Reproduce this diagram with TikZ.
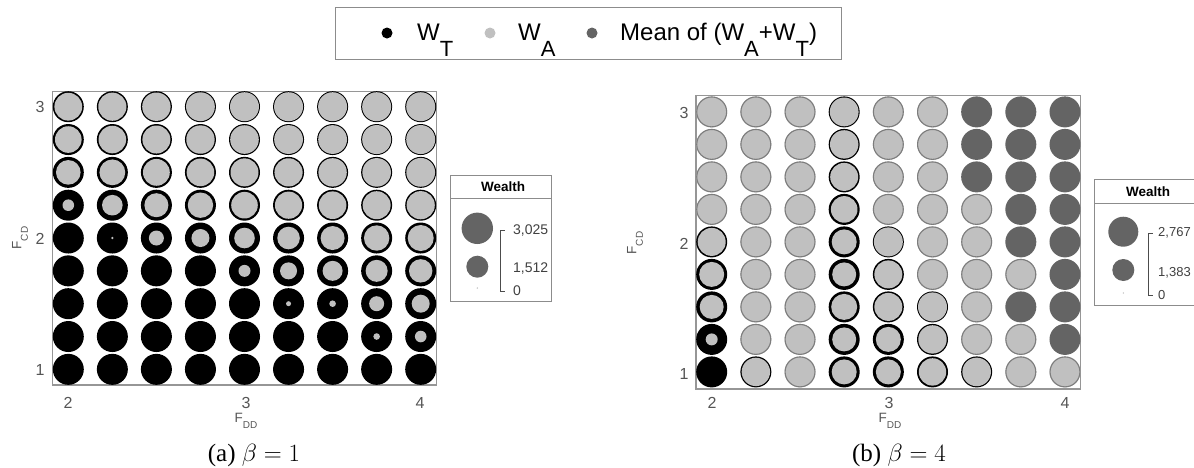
\documentclass[tikz,border=0pt]{standalone}
\usepackage{fontspec}
\setmainfont{Liberation Sans}
\newfontfamily\capfont{Liberation Serif}
\definecolor{lgray}{RGB}{192,192,192}
\definecolor{dgray}{RGB}{100,100,100}
\definecolor{framec}{RGB}{150,150,150}
\definecolor{ringg}{RGB}{125,125,125}
\definecolor{tickc}{RGB}{85,85,85}
\definecolor{boxc}{RGB}{140,140,140}
\newcommand\legsub[1]{\raisebox{-16pt}{\fontsize{22}{22}\selectfont #1}}
\newcommand\axsub[1]{\raisebox{-6.5pt}{\fontsize{10}{10}\selectfont #1}}
\newcommand\wcell[3]{%
  \ifdim #3pt<-1.5pt
    \fill[dgray] (#1,#2) circle[radius=15.5pt];
  \else\ifdim #3pt<0pt
    \fill[lgray] (#1,#2) circle[radius=15.5pt];
    \draw[ringg, line width=1.1pt] (#1,#2) circle[radius=14.95pt];
  \else
    \fill[black] (#1,#2) circle[radius=15.5pt];
    \pgfmathsetmacro\ri{15.5-#3}%
    \ifdim\ri pt>0.05pt \fill[lgray] (#1,#2) circle[radius=\ri pt];\fi
  \fi\fi}
\newcommand\drawgrid[5]{%
  \foreach \rw/\vals in {#5} {
    \foreach \vv [count=\ci] in \vals {
      \pgfmathsetmacro\cx{#1+#2*(\ci-1)}
      \pgfmathsetmacro\cy{#3+#4*(\rw-1)}
      \wcell{\cx}{\cy}{\vv}
    }
  }}
\tikzset{
  ticklbl/.style={text=tickc, font=\fontsize{16}{16}\selectfont, inner sep=0pt},
  axlbl/.style={text=tickc, font=\fontsize{13.5}{13.5}\selectfont, inner sep=0pt},
  caplbl/.style={font=\capfont\fontsize{25}{25}\selectfont, inner sep=0pt},
  legtxt/.style={font=\fontsize{24}{24}\selectfont, anchor=base west, inner sep=0pt},
  wtitle/.style={font=\bfseries\fontsize{13.5}{13.5}\selectfont, inner sep=0pt},
  wnum/.style={text=black!75, font=\fontsize{14}{14}\selectfont, anchor=west, inner sep=0pt},
  plotframe/.style={draw=framec, line width=1.2pt},
  wbox/.style={draw=boxc, line width=1pt},
  brk/.style={draw=black!70, line width=0.9pt}
}
\begin{document}
\begin{tikzpicture}[x=1pt,y=-1pt]
\useasboundingbox (0,0) rectangle (1194,467);
% top legend
\draw[wbox] (335,7.3) rectangle (841.7,59.3);
\fill[black] (387,33) circle[radius=5.5pt];
\fill[lgray] (490,33) circle[radius=5.5pt];
\fill[dgray] (592,33) circle[radius=5.5pt];
\node[legtxt] (lwt) at (417,40.7) {W\legsub{T}};
\node[legtxt] (lwa) at (518,40.7) {W\legsub{A}};
\node[legtxt] (lmean) at (620,40.7) {Mean of (W\legsub{A}+W\legsub{T})};
% left plot
\draw[plotframe] (52.7,91.4) rectangle (436.5,385);
\drawgrid{68.3}{44.05}{106.7}{32.83}{%
1/{1.6,1.4,1.3,1.1,1.0,1.0,1.0,1.0,1.0},
2/{2.2,1.7,1.5,1.3,1.2,1.1,1.1,1.0,1.0},
3/{3.2,2.6,2.1,1.7,1.5,1.4,1.3,1.2,1.1},
4/{9.7,5.2,3.5,2.8,2.2,1.9,1.7,1.5,1.4},
5/{15.5,14.2,8,6.5,5.2,4.2,3.5,2.8,2.5},
6/{15.5,15.5,15.5,15.5,9.5,7.0,5.5,4.5,3.8},
7/{15.5,15.5,15.5,15.5,15.5,13,12.2,8,6.5},
8/{15.5,15.5,15.5,15.5,15.5,15.5,15.5,12.2,9.7},
9/{15.5,15.5,15.5,15.5,15.5,15.5,15.5,15.5,15.5}}
\node[ticklbl] (ly3) at (40,106.7) {3};
\node[ticklbl] (ly2) at (40,238.5) {2};
\node[ticklbl] (ly1) at (40,370) {1};
\node[ticklbl] (lx2) at (68,403) {2};
\node[ticklbl] (lx3) at (246,403) {3};
\node[ticklbl] (lx4) at (420,403) {4};
\node[axlbl, rotate=90] (lycap) at (20,238) {F\axsub{CD}};
\node[axlbl] (lxcap) at (246,421) {F\axsub{DD}};
\node[caplbl] (capa) at (254,455) {(a) $\beta = 1$};
% left wealth box
\draw[wbox] (450,175) rectangle (551.7,301.7);
\draw[wbox] (450,198.3) -- (551.7,198.3);
\node[wtitle] (lwtitle) at (503,187) {Wealth};
\fill[dgray] (477.3,228.3) circle[radius=15.7pt];
\fill[dgray] (477.3,266.7) circle[radius=11pt];
\fill[lgray] (477.3,288) circle[radius=0.8pt];
\coordinate (lbt) at (500.7,230);
\coordinate (lbb) at (500.7,291.7);
\draw[brk] ([xshift=4.5pt]lbt) -- (lbt) -- (lbb) -- ([xshift=4.5pt]lbb);
\node[wnum] (ln1) at (513,230) {3,025};
\node[wnum] (ln2) at (513,268) {1,512};
\node[wnum] (ln3) at (513,291) {0};
% right plot
\draw[plotframe] (696,95.7) rectangle (1080.7,389);
\drawgrid{711.7}{44.16}{111.9}{32.5}{%
1/{-1,-1,-1,1.1,-1,-1,-2,-2,-2},
2/{-1,-1,-1,1.3,-1,-1,-2,-2,-2},
3/{-1,-1,-1,1.5,-1,-1,-2,-2,-2},
4/{-1,-1,-1,2.2,-1,-1,-1,-2,-2},
5/{1.5,-1,-1,3.0,1.0,-1,-1,-2,-2},
6/{3.0,-1,-1,3.5,1.5,-1,-1,-1,-2},
7/{3.5,-1,-1,2.5,1.5,1.0,-1,-2,-2},
8/{9.5,-1,-1,3.5,3.0,1.3,-1,-1,-2},
9/{15.5,1.3,-1,3.0,3.0,1.8,1.2,-1,-1}}
\node[ticklbl] (ry3) at (684,112.5) {3};
\node[ticklbl] (ry2) at (684,244) {2};
\node[ticklbl] (ry1) at (684,374) {1};
\node[ticklbl] (rx2) at (712,403) {2};
\node[ticklbl] (rx3) at (889,403) {3};
\node[ticklbl] (rx4) at (1065,403) {4};
\node[axlbl, rotate=90] (rycap) at (635,243) {F\axsub{CD}};
\node[axlbl] (rxcap) at (890,421) {F\axsub{DD}};
\node[caplbl] (capb) at (899,455) {(b) $\beta = 4$};
% right wealth box
\draw[wbox] (1094,179.3) rectangle (1210,305);
\draw[wbox] (1094,203.3) -- (1210,203.3);
\node[wtitle] (rwtitle) at (1148,192) {Wealth};
\fill[dgray] (1123.3,231.7) circle[radius=15pt];
\fill[dgray] (1123.3,270) circle[radius=11pt];
\fill[lgray] (1123.3,293) circle[radius=0.8pt];
\coordinate (rbt) at (1148.3,233);
\coordinate (rbb) at (1148.3,295);
\draw[brk] ([xshift=4.5pt]rbt) -- (rbt) -- (rbb) -- ([xshift=4.5pt]rbb);
\node[wnum, font=\fontsize{13}{13}\selectfont] (rn1) at (1158,233) {2,767};
\node[wnum, font=\fontsize{13}{13}\selectfont] (rn2) at (1158,273) {1,383};
\node[wnum, font=\fontsize{13}{13}\selectfont] (rn3) at (1158,295) {0};
\end{tikzpicture}
\end{document}
